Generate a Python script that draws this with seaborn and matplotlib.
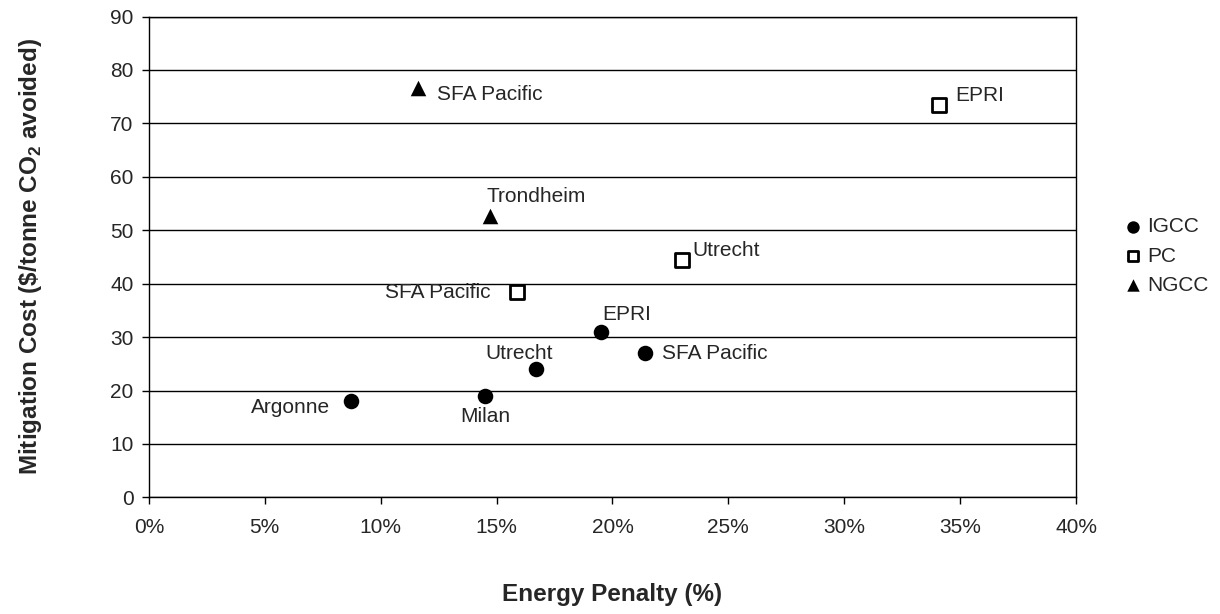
import pandas as pd
import matplotlib
matplotlib.use("Agg")
import matplotlib.pyplot as plt
import seaborn as sns
from matplotlib.ticker import PercentFormatter

# data
igcc_names = ["Argonne", "Milan", "Utrecht", "EPRI", "SFA Pacific"]
igcc_penalty = [0.087, 0.145, 0.167, 0.195, 0.214]
igcc_cost = [18, 19, 24, 31, 27]

pc_names = ["SFA Pacific", "Utrecht", "EPRI"]
pc_penalty = [0.159, 0.230, 0.341]
pc_cost = [38.4, 44.5, 73.5]

ngcc_names = ["SFA Pacific", "Trondheim"]
ngcc_penalty = [0.116, 0.147]
ngcc_cost = [76.6, 52.6]

sns.set_style("white")
plt.rcParams['font.family'] = ['Liberation Sans', 'DejaVu Sans']
plt.rcParams['mathtext.fontset'] = 'custom'
plt.rcParams['mathtext.rm'] = 'Liberation Sans:bold'
plt.rcParams['mathtext.bf'] = 'Liberation Sans:bold'

df = pd.concat([
    pd.DataFrame({'tech': 'IGCC', 'name': igcc_names, 'penalty': igcc_penalty, 'cost': igcc_cost}),
    pd.DataFrame({'tech': 'PC', 'name': pc_names, 'penalty': pc_penalty, 'cost': pc_cost}),
    pd.DataFrame({'tech': 'NGCC', 'name': ngcc_names, 'penalty': ngcc_penalty, 'cost': ngcc_cost}),
], ignore_index=True)

fig, ax = plt.subplots(figsize=(12.2, 6.14), dpi=100)
fig.subplots_adjust(left=0.122, right=0.882, top=0.973, bottom=0.19)

styles = {
    'IGCC': dict(marker='o', s=125, color='black', edgecolor='black', linewidth=0),
    'PC': dict(marker='s', s=88, color='white', edgecolor='black', linewidth=2),
    'NGCC': dict(marker='^', s=125, color='black', edgecolor='black', linewidth=0),
}
for tech, st in styles.items():
    sns.scatterplot(data=df[df.tech == tech], x='penalty', y='cost', ax=ax,
                    label=tech, zorder=3, **st)

# label offsets in pixels (dx, dy, ha)
offsets = [
    (-20, -6, 'right'), (0, -21, 'center'), (-17, 16, 'center'), (26, 17, 'center'), (17, 0, 'left'),
    (-27, 0, 'right'), (10, 9, 'left'), (16, 9, 'left'),
    (19, -6, 'left'), (-3, 20, 'left'),
]
for (_, row), (dx, dy, ha) in zip(df.iterrows(), offsets):
    ax.annotate(row['name'], (row['penalty'], row['cost']), xytext=(dx, dy),
                textcoords='offset pixels', ha=ha, va='center', fontsize=15)

ax.set_xlim(0, 0.40)
ax.set_ylim(0, 90)
ax.set_xticks([i * 0.05 for i in range(9)])
ax.set_yticks(range(0, 91, 10))
ax.xaxis.set_major_formatter(PercentFormatter(1.0, decimals=0))
ax.yaxis.grid(True, color='black', linewidth=1)
ax.xaxis.grid(False)
ax.set_axisbelow(True)
for sp in ax.spines.values():
    sp.set_color('black')
    sp.set_linewidth(1)
ax.tick_params(axis='both', direction='out', length=5, width=1, color='black',
               labelsize=15, bottom=True, left=True)
ax.tick_params(axis='x', pad=10)
ax.tick_params(axis='y', pad=6)

ax.set_xlabel('Energy Penalty (%)', fontsize=17.5, fontweight='bold')
ax.set_ylabel(r'Mitigation Cost (\$/tonne CO$_2$ avoided)', fontsize=17.5, fontweight='bold')
ax.xaxis.set_label_coords(0.5, -0.203)
ax.xaxis.label.set_va('center')
ax.yaxis.set_label_coords(-0.128, 0.5)
ax.yaxis.label.set_va('center')

leg = ax.legend(loc='center left', bbox_to_anchor=(0.920, 0.583), bbox_transform=fig.transFigure,
                frameon=False, fontsize=15, handlelength=1.0, handletextpad=0.2,
                labelspacing=0.5, borderpad=0, borderaxespad=0, markerscale=0.8)

fig.savefig('out.png', dpi=100)
